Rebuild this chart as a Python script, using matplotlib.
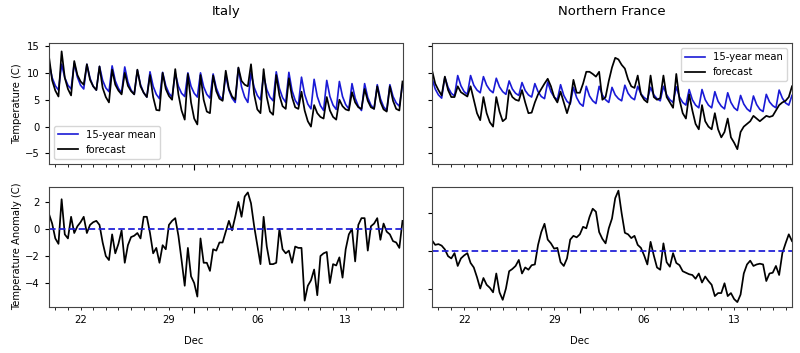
import numpy as np
import pandas as pd
import matplotlib
matplotlib.use("Agg")
import matplotlib.pyplot as plt
import matplotlib.dates as mdates
from matplotlib.ticker import FixedLocator, FuncFormatter, MultipleLocator, NullFormatter

# ---------------- data ----------------
start = "2024-12-20 12:00"
step = "6h"
regions = ["Italy", "Northern France"]
series_labels = ["15-year mean", "forecast"]
week_ticks = ["2024-12-23", "2024-12-30", "2025-01-06", "2025-01-13"]
week_labels = ["22", "29", "06", "13"]
month_tick = "2025-01-01"
month_label = "Dec"

italy_mean = [
    11.8, 9.1, 7.6, 6.8, 11.6, 9.1, 7.7, 7.0, 11.8, 9.2, 7.7, 7.0,
    11.6, 9.0, 7.5, 6.8, 11.2, 8.6, 7.2, 6.5, 11.3, 8.5, 7.1, 6.3,
    11.1, 8.3, 6.8, 6.0, 10.5, 7.8, 6.3, 5.5, 10.2, 7.5, 6.0, 5.2,
    10.1, 7.6, 6.2, 5.5, 9.9, 7.5, 6.2, 5.6, 10.0, 7.5, 6.2, 5.5,
    10.0, 7.4, 6.0, 5.3, 9.8, 7.2, 5.7, 5.0, 9.5, 6.8, 5.3, 4.5,
    10.9, 7.4, 5.5, 4.5, 10.0, 7.3, 5.8, 5.0, 9.5, 6.9, 5.5, 4.8,
    10.2, 7.1, 5.4, 4.5, 10.1, 6.7, 4.9, 4.0, 9.2, 6.0, 4.2, 3.3,
    8.8, 5.6, 3.9, 3.0, 8.6, 5.6, 4.0, 3.2, 8.4, 5.6, 4.1, 3.3,
    8.0, 5.3, 3.8, 3.0, 8.0, 5.4, 4.0, 3.3, 7.8, 5.2, 3.7, 3.0,
    7.8, 5.6, 4.4, 3.8, 7.8]

italy_forecast = [
    13.0, 8.6, 6.7, 5.6, 14.0, 9.1, 7.0, 5.8, 12.2, 9.6, 8.4, 7.8,
    11.6, 8.7, 7.5, 6.8, 11.2, 7.2, 5.5, 4.5, 10.6, 7.8, 6.7, 6.0,
    10.0, 7.6, 6.6, 6.0, 10.6, 7.5, 6.3, 5.5, 9.6, 5.5, 3.1, 3.0,
    10.0, 7.0, 5.7, 5.0, 10.7, 6.0, 3.0, 1.3, 9.8, 4.5, 1.5, 0.4,
    9.6, 5.0, 2.8, 2.5, 9.5, 6.6, 5.2, 4.8, 10.4, 7.0, 5.6, 5.0,
    11.0, 8.5, 7.8, 7.5, 11.6, 6.0, 3.2, 2.5, 10.7, 5.5, 2.8, 2.2,
    9.6, 5.8, 3.8, 3.3, 9.0, 5.5, 3.6, 3.3, 6.5, 3.0, 1.0, 0.0,
    4.0, 2.5, 1.8, 1.5, 5.5, 3.0, 1.8, 1.3, 5.0, 3.8, 3.2, 3.0,
    6.4, 4.5, 3.6, 3.3, 7.0, 4.8, 3.6, 3.3, 7.5, 4.6, 3.2, 2.8,
    7.5, 4.8, 3.3, 3.0, 8.4]

italy_anomaly = [
    1.1, 0.4, -0.7, -1.1, 2.2, -0.4, -0.7, 0.9, -0.3, 0.2, 0.5, 0.9,
    -0.3, 0.3, 0.5, 0.6, 0.3, -1.0, -2.0, -2.3, -0.4, -1.8, -1.1, -0.1,
    -2.5, -1.2, -0.6, -0.5, -0.3, -0.7, 0.9, 0.9, -0.3, -1.8, -1.4, -2.5,
    -1.2, -1.5, 0.3, 0.6, 0.8, -0.5, -2.3, -4.2, -1.4, -3.5, -4.0, -5.0,
    -0.7, -2.5, -2.5, -3.1, -1.5, -1.6, -1.0, -1.0, -0.2, 0.6, -0.1, 0.9,
    2.0, 0.9, 2.4, 2.7, 1.9, 0.2, -1.2, -2.6, 0.9, -1.3, -2.6, -2.6,
    -2.5, 0.0, -1.5, -1.8, -1.6, -2.5, -1.3, -1.4, -1.4, -5.3, -4.2, -3.8,
    -3.0, -4.9, -2.0, -1.8, -1.7, -4.0, -2.6, -2.7, -2.1, -3.6, -1.5, -0.4,
    0.0, -2.4, 0.3, 0.8, 0.8, -1.6, 0.2, 0.4, 0.8, -0.8, 0.4, -0.2,
    -0.4, -0.9, -1.0, -1.4, 0.6]

france_mean = [
    9.0, 7.0, 5.9, 5.3, 9.2, 7.3, 6.2, 5.7, 9.5, 7.6, 6.5, 6.0,
    9.5, 7.7, 6.8, 6.3, 9.3, 7.7, 6.8, 6.3, 9.0, 7.4, 6.5, 6.0,
    8.5, 7.0, 6.2, 5.8, 8.2, 6.7, 5.9, 5.5, 8.0, 6.5, 5.6, 5.2,
    8.3, 6.5, 5.5, 5.0, 7.8, 5.8, 4.7, 4.2, 7.3, 5.4, 4.3, 3.8,
    7.5, 5.7, 4.8, 4.3, 7.5, 5.9, 5.0, 4.5, 7.3, 5.9, 5.2, 4.8,
    7.7, 6.2, 5.4, 5.0, 7.5, 6.1, 5.4, 5.0, 7.3, 5.9, 5.2, 4.8,
    7.5, 5.9, 5.0, 4.5, 7.4, 5.5, 4.5, 4.0, 6.9, 5.0, 4.0, 3.5,
    6.9, 5.0, 4.0, 3.5, 6.5, 4.7, 3.8, 3.3, 6.3, 4.5, 3.5, 3.0,
    5.8, 4.2, 3.3, 2.8, 5.7, 4.1, 3.2, 2.8, 6.0, 4.6, 3.9, 3.5,
    6.8, 5.3, 4.4, 4.0, 5.8]

france_forecast = [
    10.5, 8.0, 6.8, 5.8, 9.3, 6.8, 5.5, 5.5, 7.5, 6.4, 6.0, 5.6,
    7.5, 5.0, 2.5, 1.2, 5.5, 2.5, 0.8, 0.0, 5.5, 2.8, 1.0, 1.5,
    6.8, 5.5, 5.0, 4.8, 6.8, 4.5, 2.5, 2.6, 4.5, 6.0, 7.0, 8.0,
    8.9, 7.5, 5.5, 4.5, 6.5, 4.5, 2.5, 4.5, 8.7, 6.3, 6.3, 8.0,
    10.2, 10.2, 9.8, 9.3, 10.2, 5.0, 5.5, 8.5, 11.0, 12.8, 12.5, 11.5,
    10.8, 8.8, 7.5, 7.2, 9.5, 6.0, 5.0, 4.5, 9.5, 5.5, 5.0, 5.3,
    9.5, 5.5, 4.5, 3.5, 9.8, 5.0, 2.5, 1.5, 6.0, 3.0, 0.5, -0.5,
    4.0, 1.0, 0.0, -0.5, 2.5, -0.5, -2.0, -1.0, 1.5, -2.0, -3.0, -4.2,
    -1.0, 0.0, 0.5, 1.0, 2.0, 1.5, 1.0, 1.5, 2.0, 1.8, 2.0, 3.0,
    4.0, 4.5, 4.8, 5.5, 7.5]

france_anomaly = [
    1.4, 0.8, 0.9, 0.7, 0.2, -0.7, -1.0, -0.3, -2.0, -1.0, -0.6, -0.3,
    -1.6, -2.2, -3.5, -5.0, -3.6, -4.5, -4.9, -5.5, -3.0, -5.5, -6.5, -5.0,
    -2.7, -2.4, -2.0, -1.2, -3.0, -2.2, -2.5, -1.9, -1.8, 0.8, 2.5, 3.6,
    1.5, 1.0, 0.3, 0.4, -1.5, -2.0, -1.0, 1.5, 2.0, 1.8, 2.2, 3.2,
    3.0, 4.5, 5.6, 5.2, 2.5, 1.6, 1.0, 3.0, 4.3, 7.0, 8.0, 5.0,
    2.4, 2.2, 1.7, 2.0, 0.8, 0.4, -0.6, -1.8, 1.2, -0.6, -2.2, -2.5,
    1.0, -1.5, -2.1, -0.3, -1.6, -1.9, -2.7, -2.9, -3.1, -3.2, -3.7, -3.0,
    -4.2, -3.4, -4.0, -4.5, -6.0, -5.6, -5.6, -4.3, -6.0, -5.6, -6.4, -6.8,
    -5.8, -3.0, -1.8, -1.3, -2.0, -1.8, -1.7, -1.8, -4.0, -3.0, -2.9, -2.0,
    -3.2, -0.3, 1.0, 2.2, 1.3]

# ---------------- plot ----------------
times = pd.date_range(start, periods=len(italy_mean), freq=step)
week_nums = mdates.date2num(pd.to_datetime(week_ticks))
month_num = mdates.date2num(pd.Timestamp(month_tick))

FS = 7.2
plt.rcParams["font.size"] = FS

fig = plt.figure(figsize=(8, 3.53), dpi=100)
W, H = 800.0, 353.0
cols = [(49, 402.5), (432, 792)]
rows = [(43.3, 163.7), (186.5, 307)]
axes = [[None, None], [None, None]]
for r, (t, b) in enumerate(rows):
    for c, (l, rr) in enumerate(cols):
        axes[r][c] = fig.add_axes([l / W, 1 - b / H, (rr - l) / W, (b - t) / H])

data = [(italy_mean, italy_forecast, italy_anomaly),
        (france_mean, france_forecast, france_anomaly)]


def minor_fmt(x, pos):
    for wn, lab in zip(week_nums, week_labels):
        if abs(x - wn) < 0.01:
            return lab
    return ""


BLUE = "#1a1ad6"
for c in range(2):
    mean, fc, anom = data[c]
    axt = axes[0][c]
    axb = axes[1][c]
    axt.plot(times, mean, color=BLUE, lw=1.2, label=series_labels[0])
    axt.plot(times, fc, color="black", lw=1.25, label=series_labels[1])
    axb.plot(times, anom, color="black", lw=1.25)
    axb.axhline(0, color=BLUE, lw=1.25, ls=(0, (3.8, 1.9)))

    axt.set_ylim(-6.9, 15.5)
    axt.yaxis.set_major_locator(MultipleLocator(5))
    if c == 0:
        axb.set_ylim(-5.77, 3.14)
        axb.yaxis.set_major_locator(MultipleLocator(2))
    else:
        axb.set_ylim(-7.45, 8.55)
        axb.yaxis.set_major_locator(MultipleLocator(5))

    for ax in (axt, axb):
        ax.set_xlim(times[0], times[-1])
        ax.xaxis.set_major_locator(FixedLocator([month_num]))
        ax.xaxis.set_minor_locator(mdates.DayLocator())
        ax.tick_params(axis="x", which="major", length=4, pad=0.5, labelsize=FS)
        ax.tick_params(axis="x", which="minor", length=2, pad=3.5, labelsize=FS)
        ax.tick_params(axis="y", length=3, labelsize=FS)
        for s in ax.spines.values():
            s.set_color("#444444")
    axt.xaxis.set_major_formatter(NullFormatter())
    axt.xaxis.set_minor_formatter(NullFormatter())
    axb.xaxis.set_major_formatter(FuncFormatter(lambda x, p: "\n\n" + month_label))
    axb.xaxis.set_minor_formatter(FuncFormatter(minor_fmt))

    if c == 1:
        axt.tick_params(axis="y", labelleft=False)
        axb.tick_params(axis="y", labelleft=False)
        axt.legend(loc="upper right", fontsize=FS, framealpha=0.8)
    else:
        axt.set_ylabel("Temperature (C)", fontsize=FS, labelpad=2)
        axb.set_ylabel("Temperature Anomaly (C)", fontsize=FS, labelpad=2)
        axt.legend(loc="lower left", fontsize=FS, framealpha=0.8)

    axt.text(0.5, 1.26, regions[c], transform=axt.transAxes,
             ha="center", va="center", fontsize=9.5)

fig.savefig("out.png", dpi=100)
